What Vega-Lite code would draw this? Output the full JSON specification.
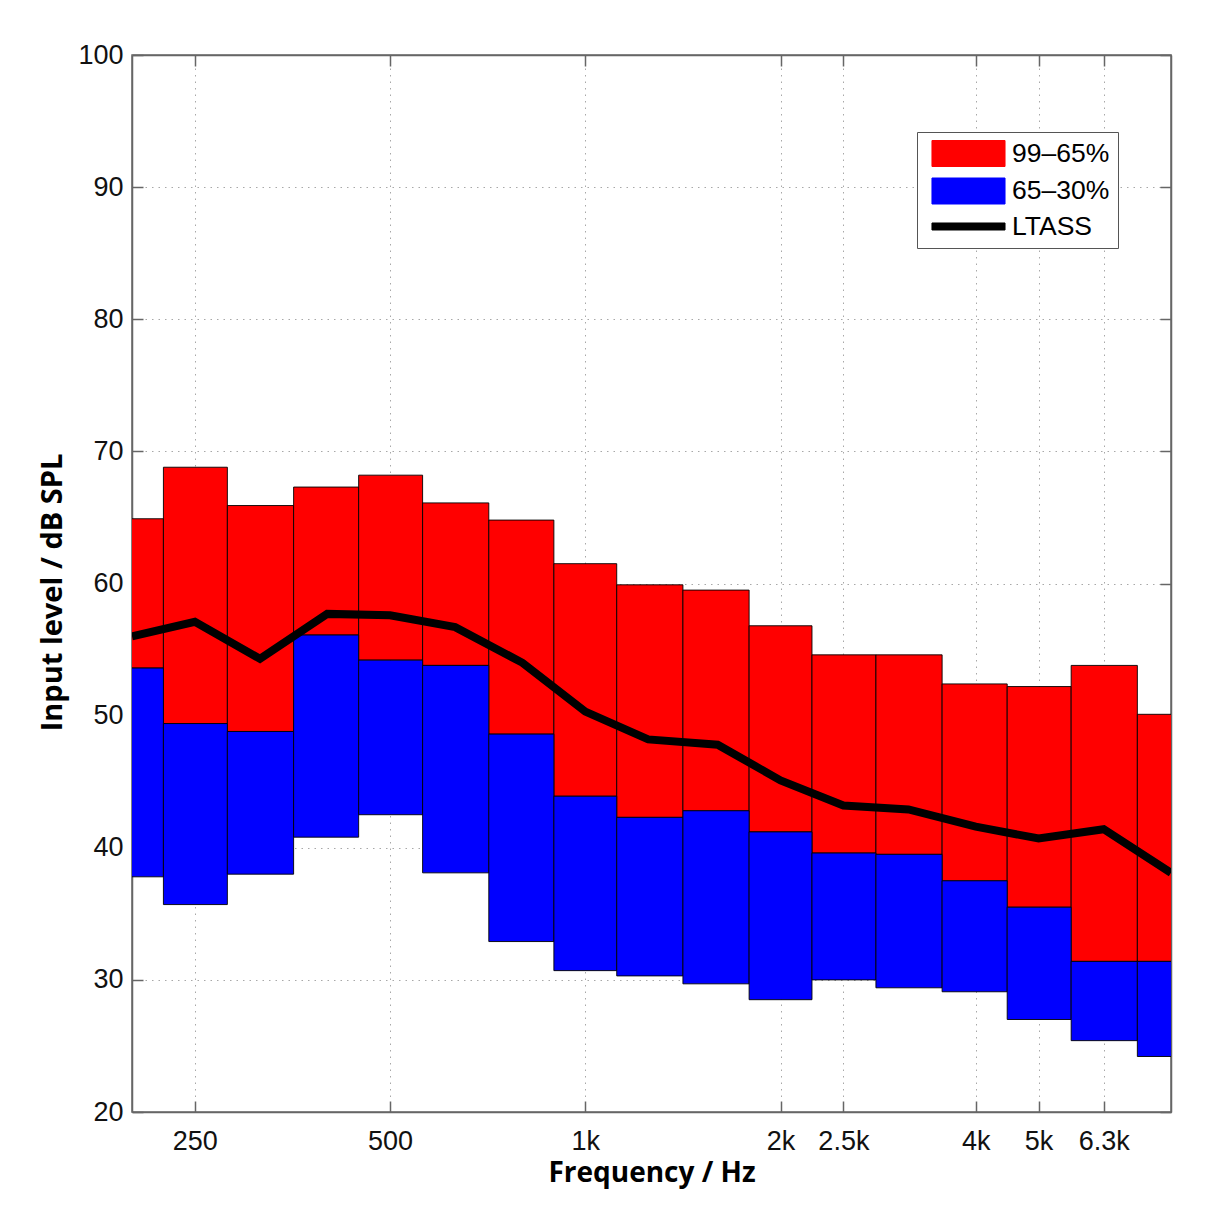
{
  "$schema": "https://vega.github.io/schema/vega-lite/v6.json",
  "width": 1039,
  "height": 1057,
  "autosize": {"type": "none"},
  "padding": {"left": 132, "top": 55, "right": 41, "bottom": 103},
  "background": "white",
  "data": {
    "values": [
      {"f": 200, "flo": 178.2, "fhi": 223.6, "p99": 64.9, "p65": 53.6, "p30": 37.8, "ltass": 56.0},
      {"f": 250, "flo": 223.6, "fhi": 280.6, "p99": 68.8, "p65": 49.4, "p30": 35.7, "ltass": 57.1},
      {"f": 315, "flo": 280.6, "fhi": 355.0, "p99": 65.9, "p65": 48.8, "p30": 38.0, "ltass": 54.3},
      {"f": 400, "flo": 355.0, "fhi": 447.2, "p99": 67.3, "p65": 56.1, "p30": 40.8, "ltass": 57.7},
      {"f": 500, "flo": 447.2, "fhi": 561.2, "p99": 68.2, "p65": 54.2, "p30": 42.5, "ltass": 57.6},
      {"f": 630, "flo": 561.2, "fhi": 709.9, "p99": 66.1, "p65": 53.8, "p30": 38.1, "ltass": 56.7},
      {"f": 800, "flo": 709.9, "fhi": 894.4, "p99": 64.8, "p65": 48.6, "p30": 32.9, "ltass": 54.0},
      {"f": 1000, "flo": 894.4, "fhi": 1118.0, "p99": 61.5, "p65": 43.9, "p30": 30.7, "ltass": 50.3},
      {"f": 1250, "flo": 1118.0, "fhi": 1414.2, "p99": 59.9, "p65": 42.3, "p30": 30.3, "ltass": 48.2},
      {"f": 1600, "flo": 1414.2, "fhi": 1788.9, "p99": 59.5, "p65": 42.8, "p30": 29.7, "ltass": 47.8},
      {"f": 2000, "flo": 1788.9, "fhi": 2236.1, "p99": 56.8, "p65": 41.2, "p30": 28.5, "ltass": 45.1},
      {"f": 2500, "flo": 2236.1, "fhi": 2806.2, "p99": 54.6, "p65": 39.6, "p30": 30.0, "ltass": 43.2},
      {"f": 3150, "flo": 2806.2, "fhi": 3549.6, "p99": 54.6, "p65": 39.5, "p30": 29.4, "ltass": 42.9},
      {"f": 4000, "flo": 3549.6, "fhi": 4472.1, "p99": 52.4, "p65": 37.5, "p30": 29.1, "ltass": 41.6},
      {"f": 5000, "flo": 4472.1, "fhi": 5612.5, "p99": 52.2, "p65": 35.5, "p30": 27.0, "ltass": 40.7},
      {"f": 6300, "flo": 5612.5, "fhi": 7099.3, "p99": 53.8, "p65": 31.4, "p30": 25.4, "ltass": 41.4},
      {"f": 8000, "flo": 7099.3, "fhi": 8980.0, "p99": 50.1, "p65": 31.4, "p30": 24.2, "ltass": 38.1}
    ]
  },
  "layer": [
    {
      "mark": {"type": "rect", "clip": true, "stroke": "#000000", "strokeWidth": 0.9},
      "encoding": {
        "x": {
          "field": "flo", "type": "quantitative",
          "scale": {"type": "log", "domain": [200, 8000], "nice": false, "zero": false},
          "axis": {
            "orient": "bottom",
            "title": "Frequency / Hz",
            "values": [250, 500, 1000, 2000, 2500, 4000, 5000, 6300],
            "labelExpr": "datum.value >= 1000 ? (datum.value / 1000) + 'k' : '' + datum.value",
            "grid": true,
            "tickSize": -11,
            "labelPadding": 27,
            "titlePadding": 5
          }
        },
        "x2": {"field": "fhi"},
        "y": {
          "field": "p65", "type": "quantitative",
          "scale": {"domain": [20, 100], "nice": false, "zero": false},
          "axis": {
            "orient": "left",
            "title": "Input level / dB SPL",
            "titleFontSize": 29,
            "titleY": 537,
            "values": [20, 30, 40, 50, 60, 70, 80, 90, 100],
            "grid": true,
            "tickSize": -11,
            "labelPadding": 20,
            "titlePadding": 10
          }
        },
        "y2": {"field": "p99"},
        "color": {
          "datum": "99–65%", "type": "nominal",
          "scale": {"domain": ["99–65%", "65–30%", "LTASS"], "range": ["#ff0000", "#0000ff", "#000000"]},
          "legend": {
            "title": null,
            "orient": "none",
            "legendX": 785,
            "legendY": 77,
            "padding": 8,
            "strokeColor": "#555555",
            "fillColor": "#ffffff",
            "labelFont": "Liberation Sans",
            "labelFontSize": 26.5,
            "labelColor": "#000000",
            "symbolType": "M-2.81,-1H2.81V1H-2.81Z",
            "symbolSize": 676,
            "symbolStrokeWidth": 1,
            "symbolOffset": 30,
            "labelOffset": 30,
            "rowPadding": 6.5,
            "encoding": {
              "symbols": {
                "shape": {"condition": {"test": "datum.value === 'LTASS'", "value": "M-2.81,-0.27H2.81V0.27H-2.81Z"}, "value": "M-2.81,-1H2.81V1H-2.81Z"},
                "stroke": {"value": "#000000"}
              },
              "entries": {
                "width": {"value": 197},
                "height": {"value": 27},
                "fill": {"value": "transparent"}
              }
            }
          }
        }
      }
    },
    {
      "mark": {"type": "rect", "clip": true, "stroke": "#000000", "strokeWidth": 0.9},
      "encoding": {
        "x": {
          "field": "flo", "type": "quantitative",
          "axis": {"orient": "top", "title": null, "values": [250, 500, 1000, 2000, 2500, 4000, 5000, 6300], "labels": false, "grid": false, "tickSize": -11}
        },
        "x2": {"field": "fhi"},
        "y": {
          "field": "p30", "type": "quantitative",
          "axis": {"orient": "right", "title": null, "values": [20, 30, 40, 50, 60, 70, 80, 90, 100], "labels": false, "grid": false, "tickSize": -11}
        },
        "y2": {"field": "p65"},
        "color": {"datum": "65–30%", "type": "nominal"}
      }
    },
    {
      "mark": {"type": "line", "clip": true, "strokeWidth": 8, "strokeJoin": "miter"},
      "encoding": {
        "x": {"field": "f", "type": "quantitative", "axis": null},
        "y": {"field": "ltass", "type": "quantitative", "axis": null},
        "color": {"datum": "LTASS", "type": "nominal"}
      }
    }
  ],
  "resolve": {"axis": {"x": "independent", "y": "independent"}},
  "config": {
    "view": {"stroke": "#666666", "strokeWidth": 1.5},
    "axis": {
      "domainColor": "#666666",
      "domainWidth": 1.5,
      "tickColor": "#666666",
      "tickWidth": 1.5,
      "gridColor": "#a8a8a8",
      "gridDash": [1.5, 5],
      "gridWidth": 1,
      "labelFont": "Liberation Sans",
      "labelFontSize": 27,
      "labelColor": "#111111",
      "titleFont": "Open Sans",
      "titleFontWeight": "bold",
      "titleFontSize": 28,
      "titleColor": "#000000"
    }
  }
}
